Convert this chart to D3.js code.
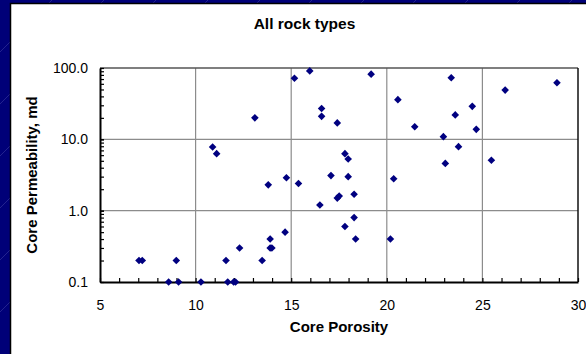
<!DOCTYPE html>
<html>
<head>
<meta charset="utf-8">
<script src="https://cdn.jsdelivr.net/npm/d3@7"></script>
<style>
  html, body { margin: 0; padding: 0; background: #000078; }
  svg { display: block; }
  text { font-family: Arial, "Liberation Sans", sans-serif; fill: #000; }
</style>
</head>
<body>
<svg id="chart" width="586" height="354"></svg>
<script>
// Core porosity (%) and core permeability (md) for all rock types
const porosity = [
  7.04, 7.21, 8.99, 8.59, 9.11, 10.28, 11.59, 11.68, 11.99, 12.09,
  12.30, 13.48, 13.90, 13.99, 13.90, 13.80, 13.10, 10.89, 11.10, 14.68,
  14.75, 15.38, 15.17, 15.97, 16.50, 16.59, 16.59, 17.08, 17.41, 17.41,
  17.51, 17.81, 17.98, 17.98, 17.81, 18.29, 18.29, 18.37, 19.18, 20.19,
  20.36, 20.58, 21.46, 22.96, 23.06, 23.37, 23.58, 23.75, 24.47, 24.68,
  25.47, 26.19, 28.90
];
const permeability = [
  0.2, 0.2, 0.2, 0.1, 0.1, 0.1, 0.2, 0.1, 0.1, 0.1,
  0.3, 0.2, 0.3, 0.3, 0.4, 2.3, 20, 7.8, 6.3, 0.5,
  2.9, 2.4, 72, 91, 1.2, 27, 21, 3.1, 17, 1.5,
  1.6, 6.3, 5.3, 3.0, 0.6, 1.7, 0.8, 0.4, 82, 0.4,
  2.8, 36, 15, 10.9, 4.6, 73, 22, 7.9, 29, 13.8,
  5.1, 49, 62
];
const xTicks = [5, 10, 15, 20, 25, 30];
const yTicks = [0.1, 1, 10, 100];
const yTickLabels = ["0.1", "1.0", "10.0", "100.0"];
const chartTitle = "All rock types";
const xTitle = "Core Porosity";
const yTitle = "Core Permeability, md";

const svg = d3.select("#chart");

// Slide backdrop with faint diagonal texture
const defs = svg.append("defs");
const pat = defs.append("pattern")
  .attr("id", "tex").attr("patternUnits", "userSpaceOnUse")
  .attr("width", 52).attr("height", 52);
pat.append("rect").attr("width", 52).attr("height", 52).attr("fill", "#000078");
pat.append("line").attr("x1", 0).attr("y1", 52).attr("x2", 52).attr("y2", 0)
  .attr("stroke", "#3a3aa0").attr("stroke-width", 0.6);
svg.append("rect").attr("width", 586).attr("height", 354).attr("fill", "url(#tex)");

// White chart panel
svg.append("rect")
  .attr("x", 10.5).attr("y", 3.5).attr("width", 590).attr("height", 360)
  .attr("fill", "#fff").attr("stroke", "#000").attr("stroke-width", 1.5);

const L = 100, R = 578, T = 68, B = 282;
const x = d3.scaleLinear().domain([5, 30]).range([L, R]);
const y = d3.scaleLog().domain([0.1, 100]).range([B, T]);

// Gridlines
const g = svg.append("g");
g.selectAll("line.vg").data(xTicks.slice(1, -1)).join("line")
  .attr("x1", d => x(d)).attr("x2", d => x(d))
  .attr("y1", T).attr("y2", B)
  .attr("stroke", "#8c8c8c").attr("stroke-width", 1.2);
g.selectAll("line.hg").data(yTicks.slice(1, -1)).join("line")
  .attr("x1", L).attr("x2", R)
  .attr("y1", d => y(d)).attr("y2", d => y(d))
  .attr("stroke", "#8c8c8c").attr("stroke-width", 1.2);

// Plot-area frame (top & right)
svg.append("line").attr("x1", L).attr("x2", R).attr("y1", T).attr("y2", T)
  .attr("stroke", "#555").attr("stroke-width", 1.5);
svg.append("line").attr("x1", R).attr("x2", R).attr("y1", T).attr("y2", B)
  .attr("stroke", "#111").attr("stroke-width", 1.5);

// Minor tick values
const xMinor = d3.range(5, 31, 1);
const yMinor = [];
[0.1, 1, 10].forEach(dec => { for (let k = 1; k <= 10; k++) yMinor.push(+(dec * k).toPrecision(3)); });

// Minor ticks (inward)
svg.append("g").attr("transform", `translate(0,${B})`)
  .call(d3.axisBottom(x).tickValues(xMinor).tickSize(-4).tickFormat(""))
  .call(a => a.select(".domain").remove())
  .selectAll("line").attr("stroke", "#000").attr("stroke-width", 1.2);
svg.append("g").attr("transform", `translate(${L},0)`)
  .call(d3.axisLeft(y).tickValues(yMinor).tickSize(-4).tickFormat(""))
  .call(a => a.select(".domain").remove())
  .selectAll("line").attr("stroke", "#000").attr("stroke-width", 1.2);

// Axes with labels
const xAxis = svg.append("g").attr("transform", `translate(0,${B})`)
  .call(d3.axisBottom(x).tickValues(xTicks).tickSize(0).tickPadding(18).tickFormat(d3.format("d")));
xAxis.select(".domain").attr("stroke", "#000").attr("stroke-width", 2);
xAxis.selectAll("text").attr("font-size", 14).attr("font-family", "Arial, 'Liberation Sans', sans-serif").attr("fill", "#000");

const yAxis = svg.append("g").attr("transform", `translate(${L},0)`)
  .call(d3.axisLeft(y).tickValues(yTicks).tickSize(0).tickPadding(12)
    .tickFormat((d, i) => yTickLabels[i]));
yAxis.select(".domain").attr("stroke", "#000").attr("stroke-width", 2);
yAxis.selectAll("text").attr("font-size", 14).attr("font-family", "Arial, 'Liberation Sans', sans-serif").attr("fill", "#000");

// Titles
svg.append("text").attr("x", 304.5).attr("y", 28.5)
  .attr("text-anchor", "middle").attr("font-size", 15.5).attr("font-weight", "bold")
  .text(chartTitle);
svg.append("text").attr("x", 339).attr("y", 332)
  .attr("text-anchor", "middle").attr("font-size", 15).attr("font-weight", "bold")
  .text(xTitle);
svg.append("text").attr("transform", "translate(37,175) rotate(-90)")
  .attr("text-anchor", "middle").attr("font-size", 15).attr("font-weight", "bold")
  .text(yTitle);

// Data markers: navy diamonds
const r = 3.8;
const diamond = `M0,${-r}L${r},0L0,${r}L${-r},0Z`;
svg.append("g").selectAll("path").data(porosity.map((p, i) => [p, permeability[i]]))
  .join("path")
  .attr("transform", d => `translate(${x(d[0])},${y(d[1])})`)
  .attr("d", diamond)
  .attr("fill", "#000080");
</script>
</body>
</html>
